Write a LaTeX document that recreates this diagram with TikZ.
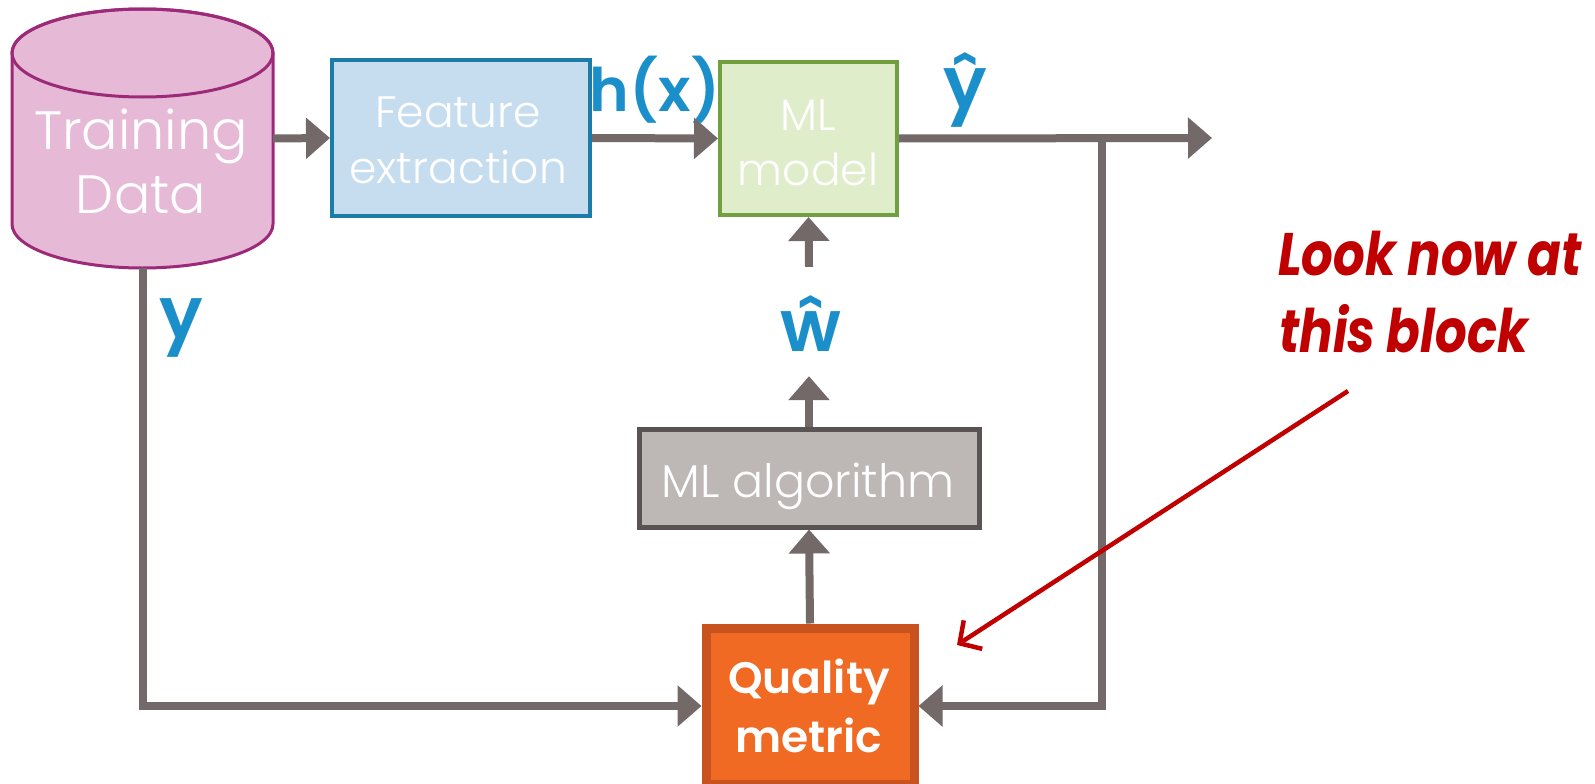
\documentclass[tikz,border=0pt]{standalone}
\usepackage{fontspec}
\setmainfont{Poppins}
\newfontfamily\plight{Poppins Light}
\newfontfamily\psemi{Poppins SemiBold}
\newfontfamily\pred{Poppins}[FakeStretch=0.83]
\usetikzlibrary{arrows.meta}
\definecolor{cylfill}{HTML}{E6BAD7}
\definecolor{cylline}{HTML}{9C2A78}
\definecolor{fefill}{HTML}{C6DDEF}
\definecolor{feline}{HTML}{1B7CA7}
\definecolor{mlfill}{HTML}{E0EDCA}
\definecolor{mlline}{HTML}{70A040}
\definecolor{algfill}{HTML}{BDB7B6}
\definecolor{algline}{HTML}{595354}
\definecolor{qmfill}{HTML}{F06A23}
\definecolor{qmline}{HTML}{C9531F}
\definecolor{arrowgray}{HTML}{726968}
\definecolor{labelblue}{HTML}{1B8FCA}
\definecolor{annred}{HTML}{C00000}
\begin{document}
\begin{tikzpicture}[x=1pt,y=-1pt,
  box/.style={draw, rectangle, inner sep=0pt},
  conn/.style={draw=arrowgray, line width=8pt},
  arr/.style={conn, -{Triangle[length=24pt,width=40pt]}},
  boxtxt/.style={text=white, font=\plight\fontsize{44}{50}\selectfont, anchor=base, inner sep=0pt},
  bigtxt/.style={text=white, font=\plight\fontsize{54}{60}\selectfont, anchor=base, inner sep=0pt},
  qmtxt/.style={text=white, font=\psemi\fontsize{44}{50}\selectfont, anchor=base, inner sep=0pt},
  lbl/.style={text=labelblue, font=\psemi\fontsize{72}{80}\selectfont, anchor=base, inner sep=0pt},
  redtxt/.style={text=annred, font=\pred\bfseries\itshape\fontsize{60}{70}\selectfont, anchor=base west, inner sep=0pt}
]
\useasboundingbox (0,0) rectangle (1595,784);

% cylinder (Training Data)
\node (td) [minimum width=261pt, minimum height=259pt, inner sep=0pt] at (142.5,138.5) {};
\draw[cylline, fill=cylfill, line width=3pt]
  (12,53) -- (12,224) arc[start angle=180, end angle=360, x radius=130.5pt, y radius=44pt]
  -- (273,53) arc[start angle=0, end angle=180, x radius=130.5pt, y radius=44pt] -- cycle;
\draw[cylline, line width=3pt] (142.5,53) ellipse[x radius=130.5pt, y radius=44pt];
\node (td1) [bigtxt] at (141,149) {Training};
\node (td2) [bigtxt] at (141,213) {Data};

% boxes
\node (fe) [box, draw=feline, fill=fefill, line width=4pt, minimum width=258pt, minimum height=156pt] at (461,138) {};
\node (fe1) [boxtxt] at (458,127) {Feature};
\node (fe2) [boxtxt] at (458,183) {extraction};

\node (ml) [box, draw=mlline, fill=mlfill, line width=4pt, minimum width=177pt, minimum height=153pt] at (808.5,138.5) {};
\node (ml1) [boxtxt] at (808,130) {ML};
\node (ml2) [boxtxt] at (808,185) {model};

\node (alg) [box, draw=algline, fill=algfill, line width=5pt, minimum width=340pt, minimum height=98pt] at (809,478) {};
\node (alg1) [boxtxt, font=\plight\fontsize{46}{50}\selectfont] at (808,497) {ML algorithm};

\node (qm) [box, draw=qmline, fill=qmfill, line width=9pt, minimum width=208pt, minimum height=156pt] at (810,706) {};
\node (qm1) [qmtxt] at (809,693) {Quality};
\node (qm2) [qmtxt] at (809,752) {metric};

% w-hat label node (spans the gap between the two arrows)
\node (what) [minimum width=60pt, minimum height=109pt, inner sep=0pt] at (809,321.5) {};
\node (whatl) [lbl] at (811,351) {ŵ};

% labels
\node (hx) [lbl, font=\psemi\fontsize{60}{66}\selectfont] at (655,111) {h(x)};
\node (yhat) [lbl] at (965,108) {ŷ};
\node (ylab) [lbl] at (181,338) {y};

% connectors
\coordinate (out) at (1212,138);
\coordinate (br) at (1102,138);
\draw[arr] (td.east) -- (fe.west);
\draw[arr] (fe.east) -- (ml.west);
\draw[arr] (ml.east) -- (out);
\draw[arr] (br) |- (qm.east);
\draw[arr] (td.south) |- (qm.west);
\draw[arr] (qm.north) -- (alg.south);
\draw[arr] (alg.north) -- (what.south);
\draw[arr] (what.north) -- (ml.south);

% annotation
\node (ann1) [redtxt] at (1278,275) {Look now at};
\node (ann2) [redtxt] at (1279,352) {this block};
\coordinate (rs) at (1348,391);
\coordinate (re) at (957,645);
\draw[annred, line width=4.5pt, -{Straight Barb[length=16pt,width=34pt]}] (rs) -- (re);
\end{tikzpicture}
\end{document}
